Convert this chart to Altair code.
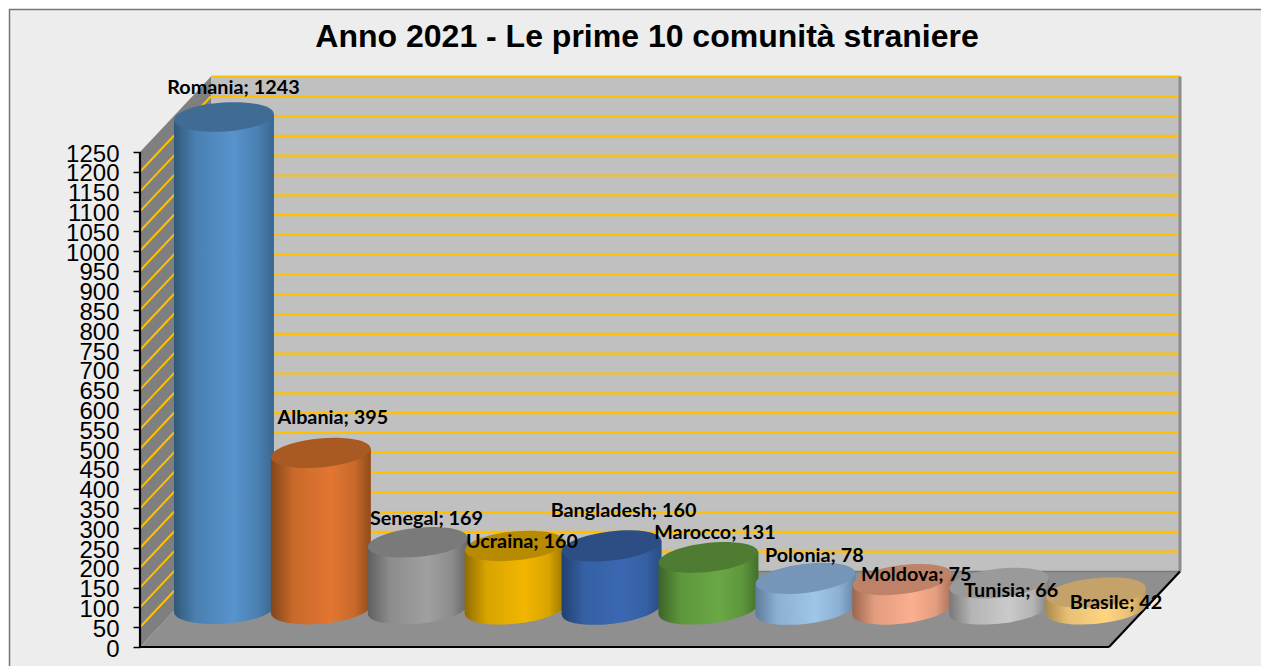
import math
import altair as alt
import pandas as pd

names = ["Romania", "Albania", "Senegal", "Ucraina", "Bangladesh", "Marocco", "Polonia", "Moldova", "Tunisia", "Brasile"]
values = [1243, 395, 169, 160, 160, 131, 78, 75, 66, 42]
tick_values = list(range(0, 1300, 50))

# (edge-left, mid, highlight, edge-right, cap)
palettes = [
    ("#2F5878", "#4A80B2", "#5893CC", "#3A668C", "#3F6B94"),
    ("#824519", "#C8692A", "#E27631", "#8F4C1C", "#A85A22"),
    ("#5F5F5F", "#8C8C8C", "#A0A0A0", "#666666", "#7A7A7A"),
    ("#8F6C00", "#D8A400", "#F2B600", "#9A7400", "#B88A00"),
    ("#22406F", "#3560A4", "#3B68B2", "#2A4C80", "#2C4E84"),
    ("#3C6429", "#5E963C", "#6AA846", "#42702C", "#4E7C33"),
    ("#5F7C9B", "#8CB0D4", "#9FC5E9", "#6585A6", "#7596B8"),
    ("#9A664D", "#E29C7F", "#FBAF8E", "#A87058", "#BE8268"),
    ("#787878", "#B4B4B4", "#CACACA", "#808080", "#9A9A9A"),
    ("#AE8B4E", "#E8C074", "#FFD580", "#BC9656", "#C4A26A"),
]
tilts_px = [3, 4.2, 4.5, 4.5, 5.5, 5.2, 5.5, 5.8, 5.2, 4.5]
label_dx = [9.5, 12, 8.7, 7.3, 12, 6.5, 9, 14, 12, 20]
label_dy = [-29, -35, -23, -4, -35, -24.4, -22.4, -4.6, 8, 10.4]

W, H = 1253, 658
X0, CW = 132.0, 96.9      # front-left corner, category width
Y0, PPU = 639.0, 0.396    # baseline and pixels per unit
DX, DY = 71.0, 75.5       # full depth offset
R_PX, RY = 50.0, 0.29     # cylinder radius, minor/major ratio
N = len(names)


def px(c, d=0.0):
    return c + d * DX / CW


def py(v, d=0.0):
    return v + d * DY / PPU


xs = alt.Scale(domain=[-X0 / CW, (W - X0) / CW], range=[0, W], nice=False, zero=False)
ys = alt.Scale(domain=[(Y0 - H) / PPU, Y0 / PPU], range=[H, 0], nice=False, zero=False)

y_axis = alt.Axis(
    values=tick_values, offset=-X0, domain=False, grid=False, tickColor="#000000", tickWidth=1.5,
    tickSize=7, labelPadding=14, labelFont="Liberation Sans", labelFontSize=24, labelColor="#000000",
    labelOffset=2, labelOverlap=False, labelFlush=False, labelBound=False, zindex=1, format="d", title=None)


def X(f="x"):
    return alt.X(f"{f}:Q", scale=xs, axis=None)


def Y(f="y"):
    return alt.Y(f"{f}:Q", scale=ys, axis=y_axis)


def rule(rows, color, width):
    return alt.Chart(pd.DataFrame(rows)).mark_rule(color=color, strokeWidth=width).encode(
        x=X("x"), x2="x2:Q", y=Y("y"), y2="y2:Q")


layers = []

# outer panel
layers.append(alt.Chart(pd.DataFrame({"a": [0]})).mark_rect(
    fill="#EDEDED", stroke="#767676", strokeWidth=1.5).encode(
    x=alt.value(1.5), x2=alt.value(W + 40), y=alt.value(1.5), y2=alt.value(H + 40)))

top = tick_values[-1]

# back wall
layers.append(alt.Chart(pd.DataFrame({"x": [px(0, 1)], "x2": [px(N, 1)], "y": [py(0, 1)], "y2": [py(top, 1)]}))
              .mark_rect(fill="#C0C0C0").encode(x=X("x"), x2="x2:Q", y=Y("y"), y2="y2:Q"))

# left wall
layers.append(alt.Chart(pd.DataFrame({"x": [px(0, 0), px(0, 1)], "y": [py(0, 0), py(0, 1)], "y2": [py(top, 0), py(top, 1)]}))
              .mark_area(fill="#7F7F7F").encode(x=X("x"), y=Y("y"), y2="y2:Q"))

# floor
layers.append(alt.Chart(pd.DataFrame({"x": [px(0, 0), px(0, 1)], "x2": [px(N, 0), px(N, 1)], "y": [py(0, 0), py(0, 1)]}))
              .mark_area(fill="#8F8F8F", orient="horizontal").encode(x=X("x"), x2="x2:Q", y=Y("y")))

# gridlines on the back and left walls
grid = [v for v in tick_values if v > 0]
side = grid[:-1]
layers.append(rule({"x": [px(0, 1)] * len(grid), "x2": [px(N, 1)] * len(grid),
                    "y": [py(v, 1) for v in grid], "y2": [py(v, 1) for v in grid]}, "#FFC000", 2.2))
layers.append(rule({"x": [px(0, 0)] * len(side), "x2": [px(0, 1)] * len(side),
                    "y": [py(v, 0) for v in side], "y2": [py(v, 1) for v in side]}, "#FFC000", 2))

# wall edges
layers.append(rule({"x": [px(N, 1)], "x2": [px(N, 1)], "y": [py(0, 1)], "y2": [py(top, 1)]}, "#8C8C8C", 3))
layers.append(rule({"x": [px(0, 1)], "x2": [px(N, 1)], "y": [py(0, 1)], "y2": [py(0, 1)]}, "#7A7A7A", 1.5))

# front edges
layers.append(rule({"x": [px(0, 0), px(0, 0), px(N, 0)], "x2": [px(N, 0), px(0, 0), px(N, 1)],
                    "y": [py(0, 0), py(0, 0), py(0, 0)], "y2": [py(0, 0), py(top, 0), py(0, 1)]}, "#000000", 2.2))


def ellipse_path(tilt_px):
    theta = math.asin(min(0.9, tilt_px / R_PX / (1 - RY ** 2)))
    c, s = math.cos(theta), math.sin(theta)
    a = -math.degrees(theta)
    return (f"M{-c:.4f},{s:.4f}A1,{RY},{a:.3f},0,1,{c:.4f},{-s:.4f}"
            f"A1,{RY},{a:.3f},0,1,{-c:.4f},{s:.4f}Z")


# cylinders, drawn left to right so that each one covers the previous one
for i, (v, pal, t) in enumerate(zip(values, palettes, tilts_px)):
    e1, mid, hi, e2, cap = pal
    grad = {"gradient": "linear", "x1": 0, "x2": 1, "y1": 0, "y2": 0,
            "stops": [{"offset": 0, "color": e1}, {"offset": 0.22, "color": mid},
                      {"offset": 0.6, "color": hi}, {"offset": 0.84, "color": mid},
                      {"offset": 1, "color": e2}]}
    xc = px(i + 0.5, 0.5)
    hw = R_PX / CW
    tv = t / PPU
    base = py(0, 0.5)
    head = py(v, 0.5)
    path = ellipse_path(t)
    size = (2 * R_PX) ** 2
    pt = pd.DataFrame({"x": [xc], "base": [base], "head": [head]})
    layers.append(alt.Chart(pt).mark_point(shape=path, size=size, filled=True, fill=grad, opacity=1, strokeWidth=0)
                  .encode(x=X("x"), y=Y("base")))
    layers.append(alt.Chart(pd.DataFrame({
        "x": [xc - hw, xc + hw], "y": [head - tv, head + tv], "y2": [base - tv, base + tv]}))
        .mark_area(color=grad).encode(x=X("x"), y=Y("y"), y2="y2:Q"))
    layers.append(alt.Chart(pt).mark_point(shape=path, size=size, filled=True, fill=cap, opacity=1, strokeWidth=0)
                  .encode(x=X("x"), y=Y("head")))

# data labels on top of everything
for i, (name, v) in enumerate(zip(names, values)):
    row = pd.DataFrame({"x": [px(i + 0.5, 0.5)], "y": [py(v, 0.5)], "t": [f"{name}; {v}"]})
    layers.append(alt.Chart(row).mark_text(
        font="Lato", fontSize=19.8, fontWeight="bold", color="#000000", align="center", baseline="middle",
        dx=label_dx[i], dy=label_dy[i]).encode(x=X("x"), y=Y("y"), text="t:N"))

chart = alt.layer(*layers).properties(
    width=W, height=H, padding=0, background="#FFFFFF",
    autosize=alt.AutoSizeParams(type="none"),
    title=alt.Title("Anno 2021 - Le prime 10 comunità straniere", font="Liberation Sans", fontSize=32,
                    fontWeight="bold", color="#000000", anchor="middle", dx=12.5, offset=-46, frame="group"),
).configure_view(stroke=None)

chart.save("out.html", embed_options={"renderer": "svg", "actions": False})
